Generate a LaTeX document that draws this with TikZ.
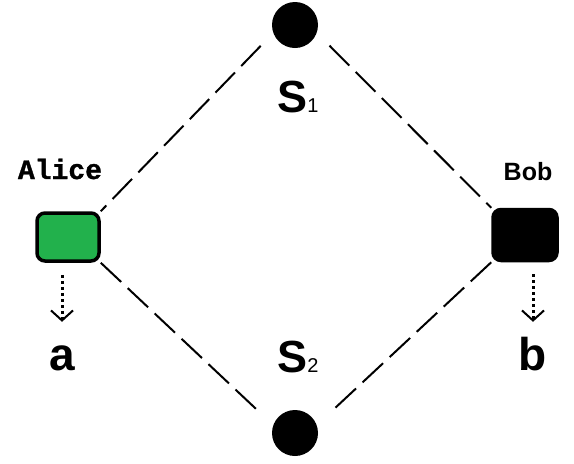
\documentclass[tikz,border=0pt]{standalone}
\usepackage{fontspec}
\setmainfont{Liberation Sans}
\newfontfamily\alicefont[BoldFeatures = {FakeBold = 1.2}]{Liberation Mono}
\usetikzlibrary{arrows.meta}
\definecolor{alicegreen}{RGB}{34,177,76}

\begin{document}
\begin{tikzpicture}[x = 1pt, y = -1pt]
		\tikzstyle{every node} = [inner sep = 0pt]
		\tikzstyle{source} = [circle, fill = black, minimum size = 46pt]
		\tikzstyle{party} = [rectangle, rounded corners = 8pt, draw = black, line width = 3.5pt]
		\tikzstyle{link} = [line width = 2pt, dash pattern = on 28pt off 9pt]
		\tikzstyle{outcome} = [line width = 3pt, dash pattern = on 3pt off 3pt, -{Straight Barb[length = 10pt, width = 22pt, line width = 2pt]}]
		\tikzstyle{bit} = [anchor = base, text height = 34pt, text depth = 0pt, font = \fontsize{46}{46}\selectfont\bfseries]
		\useasboundingbox (0,0) rectangle (574,464);

		% sources
		\node [source] (s1) at (295,25) {};
		\node [source] (s2) at (295,433) {};
		\node [anchor = base, font = \fontsize{45}{45}\selectfont\bfseries] (s1name) at (298,112) {S{\mdseries\fontsize{20}{20}\selectfont 1}};
		\node [anchor = base, font = \fontsize{45}{45}\selectfont\bfseries] (s2name) at (298,372) {S{\mdseries\fontsize{20}{20}\selectfont 2}};

		% parties
		\node [party, fill = alicegreen, minimum width = 62pt, minimum height = 48pt] (alice) at (68,237) {};
		\node [party, fill = black, minimum width = 64pt, minimum height = 51pt] (bob) at (525,235) {};
		\node [anchor = base, font = \fontsize{28}{28}\selectfont\alicefont\bfseries] (alicename) at (60,179) {Alice};
		\node [anchor = base, font = \fontsize{25}{25}\selectfont\bfseries] (bobname) at (528,180) {Bob};

		% outputs
		\node [bit] (a) at (62,370) {a};
		\node [bit] (b) at (533,370) {b};

		\draw [link, shorten <= 18pt] (s1.200) -- (alice.north east); %s1 to alice
		\draw [link, shorten <= 18pt] (s1.-20) -- (bob.north west); %s1 to bob
		\draw [link, shorten >= 18pt] (alice.south east) -- (s2.160); %alice to s2
		\draw [link, shorten >= 18pt] (bob.south west) -- (s2.20); %bob to s2

		\draw [outcome, shorten <= 12pt, shorten >= 14pt] (alice.south -| a) -- (a.north);
		\draw [outcome, shorten <= 12pt, shorten >= 14pt] (bob.south -| b) -- (b.north);
	\end{tikzpicture}
\end{document}
